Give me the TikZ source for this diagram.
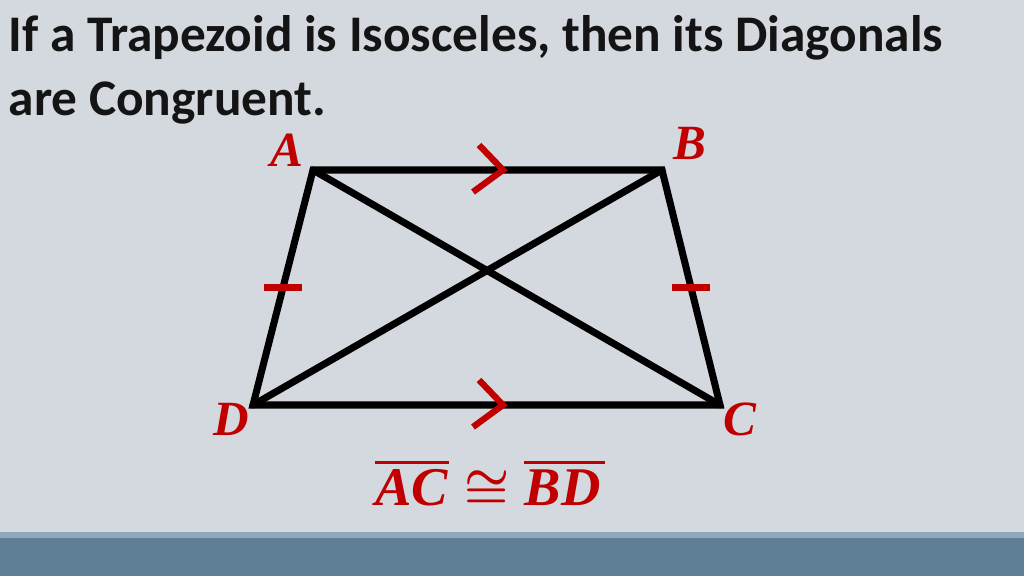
\documentclass[tikz,border=0pt]{standalone}
\usepackage{fontspec}
\setmainfont{Carlito}
\newfontfamily\labelfont{Liberation Serif}
\usepackage{xcolor}
\usetikzlibrary{positioning,calc}

\definecolor{slidebg}{RGB}{211,217,223}
\definecolor{bandblue}{RGB}{95,127,148}
\definecolor{bandlight}{RGB}{143,168,186}
\definecolor{markred}{RGB}{192,0,0}
\definecolor{titlegray}{RGB}{20,20,20}

\tikzset{
  side/.style={line width=2pt, black, line cap=round, line join=miter},
  tick/.style={line width=1.8pt, markred},
  vlabel/.style={text=markred, inner sep=0pt, font=\labelfont\bfseries\itshape\fontsize{14pt}{16pt}\selectfont},
  eqpart/.style={text=markred, inner sep=0pt, font=\labelfont\bfseries\itshape\fontsize{15.5pt}{18pt}\selectfont}
}

\begin{document}
\begin{tikzpicture}[x=0.01cm, y=-0.01cm]

% Slide background
\useasboundingbox (0,0) rectangle (1024,576);
\fill[slidebg] (0,0) rectangle (1024,576);
\fill[bandlight] (0,532) rectangle (1024,538);
\fill[bandblue] (0,538) rectangle (1024,576);

% Title
\node[anchor=north west, inner sep=0pt, align=left, text=titlegray, font=\bfseries\fontsize{14.6pt}{18pt}\selectfont] (title) at (8,15) {If a Trapezoid is Isosceles, then its Diagonals\\are Congruent.};

% Vertices
\coordinate (A) at (313,170);
\coordinate (B) at (662,170);
\coordinate (C) at (720,405);
\coordinate (D) at (253,405);

% Trapezoid and diagonals
\draw[side] (A) -- (B) -- (C) -- (D) -- cycle;
\draw[side] (A) -- (C);
\draw[side] (B) -- (D);

% Parallel marks
\coordinate (topmark) at (503,170);
\coordinate (botmark) at (503,405);
\draw[tick, line cap=butt] ($(topmark)+(-24,-25)$) -- (topmark) -- ($(topmark)+(-30,22)$);
\draw[tick, line cap=butt] ($(botmark)+(-24,-25)$) -- (botmark) -- ($(botmark)+(-30,22)$);

% Congruent legs
\coordinate (legAD) at ($(A)!0.5!(D)$);
\coordinate (legBC) at ($(B)!0.5!(C)$);
\draw[tick] ($(legAD)+(-19,0)$) -- ($(legAD)+(19,0)$);
\draw[tick] ($(legBC)+(-19,0)$) -- ($(legBC)+(19,0)$);

% Vertex labels
\node[vlabel] (labA) at (287,150) {A};
\node[vlabel] (labB) at (690,143) {B};
\node[vlabel] (labC) at (740,419) {C};
\node[vlabel] (labD) at (231,419) {D};

% Conclusion
\node[text=markred, inner sep=0pt, anchor=base, font=\fontsize{15.5pt}{18pt}\selectfont\boldmath] (cong) at (487,507) {$\cong$};
\node[eqpart, anchor=base east] (ac) at (449,505) {AC};
\node[eqpart, anchor=base west] (bd) at (524,505) {BD};
\draw[markred, line width=0.9pt] ($(ac.north west)+(0,-6)$) -- ($(ac.north east)+(0,-6)$);
\draw[markred, line width=0.9pt] ($(bd.north west)+(0,-6)$) -- ($(bd.north east)+(4,-6)$);

\end{tikzpicture}
\end{document}
